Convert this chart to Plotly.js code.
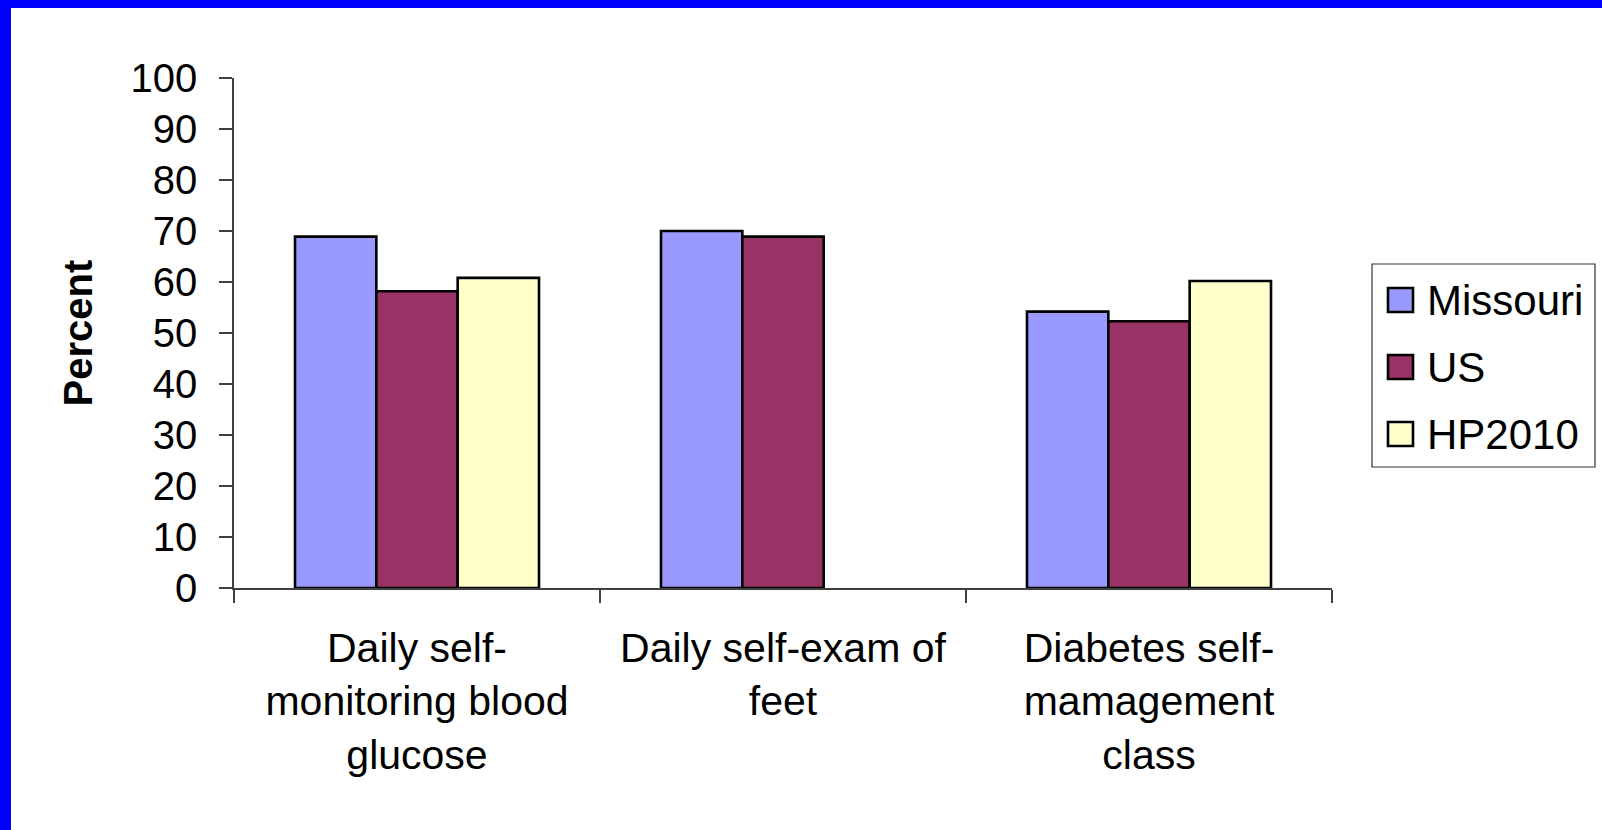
<!DOCTYPE html>
<html>
<head>
<meta charset="utf-8">
<script src="https://cdn.plot.ly/plotly-3.0.1.min.js"></script>
<style>
  html, body { margin: 0; padding: 0; background: #0000FF; width: 1602px; height: 830px; overflow: hidden; }
  #chart { position: absolute; left: 11px; top: 8px; width: 1591px; height: 822px; background: #ffffff; }
</style>
</head>
<body>
<div id="chart"></div>
<script>
// ---- data ----
const categories = [
  "Daily self-<br>monitoring blood<br>glucose",
  "Daily self-exam of<br>feet",
  "Diabetes self-<br>mamagement<br>class"
];
const seriesNames = ["Missouri", "US", "HP2010"];
const missouri = [68.9, 70.0, 54.2];
const us = [58.2, 68.9, 52.3];
const hp2010 = [60.8, null, 60.2];
const yTicks = [0, 10, 20, 30, 40, 50, 60, 70, 80, 90, 100];
const colors = ["#9999FF", "#993366", "#FFFFCC"];

// ---- layout geometry ----
const W = 1591, H = 822;
const M = { l: 223, t: 70, r: 270, b: 242 };
const PW = W - M.l - M.r, PH = H - M.t - M.b;
const OX = 11, OY = 8; // div offset on page
function xp(px) { return (px - OX - M.l) / PW; }
function yp(py) { return 1 - (py - OY - M.t) / PH; }

const font = "Liberation Sans, Arial, sans-serif";
const values = [missouri, us, hp2010];

const traces = seriesNames.map((name, i) => ({
  type: "bar",
  name: name,
  x: categories,
  y: values[i],
  marker: { color: colors[i], line: { color: "#000000", width: 2.6 } },
  showlegend: false,
  hoverinfo: "x+y+name"
}));

// custom legend (box, swatches, labels)
const shapes = [{
  type: "rect", xref: "paper", yref: "paper",
  x0: xp(1372), x1: xp(1595), y0: yp(264), y1: yp(467),
  line: { color: "#333333", width: 1.2 }, fillcolor: "#ffffff"
}];
const annotations = [];
const legendY = [300, 367, 434];
seriesNames.forEach((name, i) => {
  shapes.push({
    type: "rect", xref: "paper", yref: "paper",
    x0: xp(1388), x1: xp(1413), y0: yp(legendY[i] - 12), y1: yp(legendY[i] + 12),
    line: { color: "#000000", width: 2.6 }, fillcolor: colors[i]
  });
  annotations.push({
    xref: "paper", yref: "paper", x: xp(1425), y: yp(legendY[i]),
    xanchor: "left", yanchor: "middle", showarrow: false,
    text: name, font: { family: font, size: 42, color: "#000000" }
  });
});

const layout = {
  width: W, height: H,
  margin: M,
  paper_bgcolor: "#ffffff",
  plot_bgcolor: "#ffffff",
  barmode: "group",
  bargap: 1 / 3,
  bargroupgap: 0,
  showlegend: false,
  font: { family: font, color: "#000000" },
  xaxis: {
    type: "category",
    showline: true, linecolor: "#404040", linewidth: 1.5,
    ticks: "outside", tickson: "boundaries", ticklen: 13, tickwidth: 1.5, tickcolor: "#404040",
    tickfont: { family: font, size: 41, color: "#000000" },
    showgrid: false, zeroline: false, fixedrange: true,
    ticklabelstandoff: 23
  },
  yaxis: {
    range: [0, 100],
    tickvals: yTicks,
    ticktext: yTicks.map(String),
    showline: true, linecolor: "#404040", linewidth: 1.5,
    ticks: "outside", ticklen: 13, tickwidth: 1.5, tickcolor: "#404040",
    tickfont: { family: font, size: 40, color: "#000000" },
    showgrid: false, zeroline: false, fixedrange: true,
    title: { text: "<b>Percent</b>", font: { family: font, size: 40, color: "#000000" }, standoff: 26 },
    ticklabelstandoff: 14
  },
  shapes: shapes,
  annotations: annotations
};

Plotly.newPlot("chart", traces, layout, { displayModeBar: false, staticPlot: false });
</script>
</body>
</html>
